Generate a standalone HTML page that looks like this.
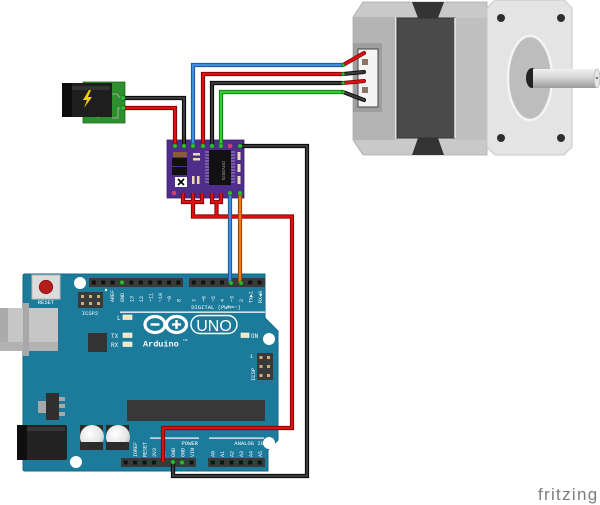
<!DOCTYPE html>
<html><head><meta charset="utf-8"><style>
html,body{margin:0;padding:0;background:#fff;}
svg{display:block;}
.pl{font-family:"Liberation Mono",monospace;font-size:5px;fill:#fff;}
</style></head><body>
<svg width="600" height="505" viewBox="0 0 600 505" xmlns="http://www.w3.org/2000/svg">
<defs>
<linearGradient id="shaft" x1="0" y1="0" x2="0" y2="1">
<stop offset="0" stop-color="#f0f0f0"/><stop offset="0.45" stop-color="#d6d6d6"/><stop offset="1" stop-color="#9a9a9a"/>
</linearGradient>
<radialGradient id="cap" cx="0.4" cy="0.35" r="0.7">
<stop offset="0" stop-color="#ffffff"/><stop offset="0.7" stop-color="#e4e4e4"/><stop offset="1" stop-color="#b8b8b8"/>
</radialGradient>
</defs>

<!-- ============ STEPPER MOTOR ============ -->
<polygon points="353,17 363,2 487,2 487,155 363,155 353,140" fill="#c9c9c9" stroke="#aaa" stroke-width="0.8"/>
<rect x="353" y="17" width="42" height="123" fill="#b4b4b4"/>
<rect x="395" y="18" width="2" height="120" fill="#e6e6e6"/>
<rect x="397" y="18" width="58" height="120" fill="#4a4a4a" stroke="#333" stroke-width="1"/>
<polygon points="412,2 444,2 438,18 418,18" fill="#333"/>
<polygon points="418,138 438,138 444,155 412,155" fill="#333"/>
<rect x="455" y="18" width="32" height="122" fill="#c0c0c0"/>
<line x1="455" y1="18" x2="455" y2="138" stroke="#e8e8e8" stroke-width="1.5"/>
<!-- flange -->
<polygon points="495,0 564,0 572,8 572,147 564,155 495,155 487,147 487,8" fill="#e4e4e4" stroke="#c8c8c8" stroke-width="1"/>
<circle cx="501" cy="18" r="4" fill="#2e2e2e"/><circle cx="561" cy="18" r="4" fill="#2e2e2e"/>
<circle cx="501" cy="138" r="4" fill="#2e2e2e"/><circle cx="561" cy="138" r="4" fill="#2e2e2e"/>
<ellipse cx="530" cy="78" rx="22" ry="42" fill="#bdbdbd" stroke="#f4f4f4" stroke-width="2.5"/>
<ellipse cx="532" cy="78" rx="6" ry="10" fill="#222"/>
<rect x="533" y="69" width="64" height="19" fill="url(#shaft)"/>
<ellipse cx="597" cy="78.5" rx="3" ry="9.5" fill="#e6e6e6" stroke="#aaa" stroke-width="0.6"/>
<circle cx="597" cy="78" r="1.2" fill="#777"/>
<!-- connector -->
<rect x="353" y="43" width="29" height="69" fill="#9e9e9e"/>
<rect x="358" y="49" width="20" height="58" fill="#f4f4f4" stroke="#444" stroke-width="1"/>
<rect x="362" y="59" width="6" height="6" fill="#8c7565"/>
<rect x="362" y="87" width="6" height="6" fill="#8c7565"/>
<!-- motor stubs -->
<g stroke-linecap="round">
<line x1="343" y1="65" x2="364" y2="53" stroke="#7a0000" stroke-width="4"/><line x1="343" y1="65" x2="364" y2="53" stroke="#dd1111" stroke-width="2.5"/>
<line x1="343" y1="74" x2="364" y2="72" stroke="#000" stroke-width="4"/><line x1="343" y1="74" x2="364" y2="72" stroke="#3a3a3a" stroke-width="2.5"/>
<line x1="343" y1="83" x2="364" y2="81" stroke="#7a0000" stroke-width="4"/><line x1="343" y1="83" x2="364" y2="81" stroke="#dd1111" stroke-width="2.5"/>
<line x1="343" y1="92" x2="364" y2="100" stroke="#000" stroke-width="4"/><line x1="343" y1="92" x2="364" y2="100" stroke="#3a3a3a" stroke-width="2.5"/>
</g>

<!-- ============ POWER JACK ============ -->
<rect x="83" y="82" width="42" height="41" fill="#2d8f2d" stroke="#1f6f1f" stroke-width="0.8"/>
<polyline points="112,94 117,94 119,97 123,97" fill="none" stroke="#bbb" stroke-width="0.8"/>
<polyline points="112,118 118,118 118,108 123,108" fill="none" stroke="#bbb" stroke-width="0.8"/>
<polyline points="98,118 98,114 112,114" fill="none" stroke="#bbb" stroke-width="0.8"/>
<rect x="62" y="83" width="50" height="34" fill="#1e1e1e"/>
<rect x="62" y="83" width="10" height="34" fill="#0c0c0c"/>
<rect x="72" y="86" width="38" height="4" fill="#333"/>
<polygon points="89,90 83,100 87,100 84,108 92,97 88,97 91,90" fill="#f5d000"/>

<!-- ============ ARDUINO ============ -->
<path d="M25,274 L265,274 L265,318 L278,331 L278,440 L268,450 L268,471 L25,471 Q23,471 23,469 L23,276 Q23,274 25,274 Z" fill="#1c7a9b" stroke="#146683" stroke-width="1"/>
<!-- USB -->
<rect x="0" y="308" width="58" height="43" fill="#c6c6c6"/>
<rect x="0" y="308" width="8" height="43" fill="#ababab"/>
<rect x="0" y="342" width="58" height="9" fill="#b2b2b2"/>
<rect x="23" y="303" width="6" height="53" fill="#a8a8a8"/>
<!-- reset -->
<rect x="32" y="275" width="28" height="24" fill="#dcdcdc" stroke="#bcbcbc" stroke-width="1"/>
<circle cx="46" cy="287" r="6.7" fill="#b51c1c" stroke="#8a1010" stroke-width="0.8"/>
<text x="46" y="304" class="pl" text-anchor="middle" style="font-size:5.5px">RESET</text>
<!-- mounting holes -->
<circle cx="80" cy="283" r="6" fill="#fff"/>
<circle cx="269" cy="339" r="6" fill="#fff"/>
<circle cx="269" cy="443" r="6" fill="#fff"/>
<circle cx="76" cy="462" r="6" fill="#fff"/>
<!-- ICSP2 -->
<rect x="78" y="292" width="25" height="16" fill="#3a3a3a"/>
<g fill="#c9b27a"><rect x="81" y="295" width="3" height="3"/><rect x="89" y="295" width="3" height="3"/><rect x="97" y="295" width="3" height="3"/><rect x="81" y="302" width="3" height="3"/><rect x="89" y="302" width="3" height="3"/><rect x="97" y="302" width="3" height="3"/></g>
<circle cx="106" cy="290" r="1.2" fill="#fff"/>
<text x="90" y="315" class="pl" text-anchor="middle" style="font-size:5.5px">ICSP2</text>
<!-- top headers -->
<rect x="89" y="278" width="94" height="9" fill="#3a3a3a"/>
<rect x="189" y="278" width="76" height="9" fill="#3a3a3a"/>
<g fill="#111">
<rect x="91.8" y="280.5" width="4" height="4"/><rect x="101.2" y="280.5" width="4" height="4"/><rect x="110.6" y="280.5" width="4" height="4"/><rect x="129.4" y="280.5" width="4" height="4"/><rect x="138.8" y="280.5" width="4" height="4"/><rect x="148.2" y="280.5" width="4" height="4"/><rect x="157.6" y="280.5" width="4" height="4"/><rect x="167" y="280.5" width="4" height="4"/><rect x="176.4" y="280.5" width="4" height="4"/>
<rect x="191.8" y="280.5" width="4" height="4"/><rect x="201.2" y="280.5" width="4" height="4"/><rect x="210.6" y="280.5" width="4" height="4"/><rect x="220" y="280.5" width="4" height="4"/><rect x="248.2" y="280.5" width="4" height="4"/><rect x="257.6" y="280.5" width="4" height="4"/>
</g>
<circle cx="122" cy="282.5" r="2.3" fill="#2dbb2d" stroke="#145a14" stroke-width="0.6"/>
<g class="pl">
<text transform="translate(114,302) rotate(-90)">AREF</text>
<text transform="translate(124,302) rotate(-90)">GND</text>
<text transform="translate(133.5,302) rotate(-90)">13</text>
<text transform="translate(143,302) rotate(-90)">12</text>
<text transform="translate(152.5,302) rotate(-90)">~11</text>
<text transform="translate(162,302) rotate(-90)">~10</text>
<text transform="translate(171,302) rotate(-90)">~9</text>
<text transform="translate(180.5,302) rotate(-90)">8</text>
<text transform="translate(196,302) rotate(-90)">7</text>
<text transform="translate(205.5,302) rotate(-90)">~6</text>
<text transform="translate(215,302) rotate(-90)">~5</text>
<text transform="translate(224,302) rotate(-90)">4</text>
<text transform="translate(233.5,302) rotate(-90)">~3</text>
<text transform="translate(243,302) rotate(-90)">2</text>
<text transform="translate(252.5,303) rotate(-90)">TX▶1</text>
<text transform="translate(262,303) rotate(-90)">RX◀0</text>
</g>
<text x="216" y="309" class="pl" text-anchor="middle" style="font-size:5.5px">DIGITAL (PWM=~)</text>
<rect x="120" y="311.5" width="145" height="1.3" fill="#fff"/>
<!-- LEDs -->
<text x="117" y="320" class="pl" style="font-size:6px">L</text>
<rect x="123" y="315" width="9" height="4.5" fill="#f3e6b8" stroke="#fff" stroke-width="0.6"/>
<text x="111" y="338" class="pl" style="font-size:6px">TX</text>
<rect x="123" y="333" width="9" height="4.5" fill="#f3e6b8" stroke="#fff" stroke-width="0.6"/>
<text x="111" y="347" class="pl" style="font-size:6px">RX</text>
<rect x="123" y="342" width="9" height="4.5" fill="#f3e6b8" stroke="#fff" stroke-width="0.6"/>
<rect x="241" y="333" width="8" height="4.5" fill="#f3e6b8" stroke="#fff" stroke-width="0.6"/>
<text x="251" y="338" class="pl" style="font-size:6px">ON</text>
<!-- chip near USB -->
<rect x="88" y="333" width="19" height="19" fill="#333"/>
<!-- logo -->
<ellipse cx="155" cy="324.5" rx="10" ry="8" fill="none" stroke="#fff" stroke-width="3.2"/>
<ellipse cx="176.5" cy="324.5" rx="10" ry="8" fill="none" stroke="#fff" stroke-width="3.2"/>
<rect x="150.5" y="323.3" width="9" height="2.4" fill="#fff"/>
<rect x="172" y="323.3" width="9" height="2.4" fill="#fff"/>
<rect x="175.3" y="320" width="2.4" height="9" fill="#fff"/>
<rect x="191" y="315.5" width="46" height="18" rx="9" fill="none" stroke="#fff" stroke-width="1.4"/>
<text x="214" y="331" text-anchor="middle" style="font-family:'Liberation Sans',sans-serif;font-size:16px;fill:#fff;font-weight:normal">UNO</text>
<text x="143" y="346.5" style="font-family:'Liberation Mono',monospace;font-size:8.5px;fill:#fff;font-weight:bold">Arduino</text>
<text x="183" y="341" style="font-family:'Liberation Sans',sans-serif;font-size:3px;fill:#fff">TM</text>
<!-- ICSP right -->
<rect x="257" y="353" width="16" height="27" fill="#3a3a3a"/>
<g fill="#c9b27a"><rect x="259.5" y="356" width="3" height="3"/><rect x="267" y="356" width="3" height="3"/><rect x="259.5" y="365" width="3" height="3"/><rect x="267" y="365" width="3" height="3"/><rect x="259.5" y="374" width="3" height="3"/><rect x="267" y="374" width="3" height="3"/></g>
<text transform="translate(255,381) rotate(-90)" class="pl" style="font-size:5.5px">ICSP</text>
<text x="250" y="358" class="pl" style="font-size:5px">1</text>
<!-- main chip -->
<rect x="127" y="400" width="138" height="21" fill="#383838"/>
<!-- regulator -->
<rect x="38" y="401" width="9" height="12" fill="#a8a8a8"/>
<rect x="46" y="393" width="13" height="27" fill="#2f2f2f"/>
<rect x="59" y="397" width="6" height="4" fill="#a8a8a8"/>
<rect x="59" y="404" width="6" height="4" fill="#a8a8a8"/>
<rect x="59" y="412" width="6" height="4" fill="#a8a8a8"/>
<!-- DC jack -->
<rect x="17" y="425" width="50" height="35" rx="2" fill="#222"/>
<rect x="17" y="425" width="10" height="35" fill="#0e0e0e"/>
<rect x="27" y="427" width="38" height="4" fill="#363636"/>
<!-- caps -->
<rect x="80" y="425" width="23" height="25" fill="#2b2b2b"/>
<rect x="106" y="425" width="23" height="25" fill="#2b2b2b"/>
<circle cx="92" cy="437" r="12" fill="url(#cap)"/>
<circle cx="118" cy="437" r="12" fill="url(#cap)"/>
<path d="M81,442 A12,12 0 0 0 103,442 Z" fill="#2b2b2b"/>
<path d="M107,442 A12,12 0 0 0 129,442 Z" fill="#2b2b2b"/>
<!-- power / analog labels -->
<rect x="150" y="437.5" width="49" height="1.2" fill="#fff"/>
<rect x="209" y="437.5" width="55" height="1.2" fill="#fff"/>
<text x="198" y="445" class="pl" text-anchor="end" style="font-size:5.5px">POWER</text>
<text x="264" y="445" class="pl" text-anchor="end" style="font-size:5.5px">ANALOG IN</text>
<g class="pl">
<text transform="translate(137,457) rotate(-90)">IOREF</text>
<text transform="translate(146.5,457) rotate(-90)">RESET</text>
<text transform="translate(156,457) rotate(-90)">3V3</text>
<text transform="translate(165.5,457) rotate(-90)">5V</text>
<text transform="translate(175,457) rotate(-90)">GND</text>
<text transform="translate(184.5,457) rotate(-90)">GND</text>
<text transform="translate(194,457) rotate(-90)">VIN</text>
<text transform="translate(214.5,457) rotate(-90)">A0</text>
<text transform="translate(224,457) rotate(-90)">A1</text>
<text transform="translate(233.5,457) rotate(-90)">A2</text>
<text transform="translate(243,457) rotate(-90)">A3</text>
<text transform="translate(252.5,457) rotate(-90)">A4</text>
<text transform="translate(262,457) rotate(-90)">A5</text>
</g>
<!-- bottom headers -->
<rect x="121" y="458" width="75" height="9" fill="#3a3a3a"/>
<rect x="208" y="458" width="57" height="9" fill="#3a3a3a"/>
<g fill="#111">
<rect x="123.7" y="460.5" width="4" height="4"/><rect x="133.1" y="460.5" width="4" height="4"/><rect x="142.5" y="460.5" width="4" height="4"/><rect x="151.9" y="460.5" width="4" height="4"/><rect x="189.5" y="460.5" width="4" height="4"/>
<rect x="210.7" y="460.5" width="4" height="4"/><rect x="220.1" y="460.5" width="4" height="4"/><rect x="229.5" y="460.5" width="4" height="4"/><rect x="238.9" y="460.5" width="4" height="4"/><rect x="248.3" y="460.5" width="4" height="4"/><rect x="257.7" y="460.5" width="4" height="4"/>
</g>
<circle cx="182" cy="462.5" r="2.3" fill="#2dbb2d" stroke="#145a14" stroke-width="0.6"/>

<!-- ============ DRIVER BOARD ============ -->
<rect x="167" y="140" width="77" height="58" fill="#4f2d8a" stroke="#3a1f6a" stroke-width="0.8"/>
<rect x="173" y="152" width="14" height="5" fill="#8a5a3a"/>
<rect x="172" y="158" width="15" height="8" fill="#111"/>
<rect x="172" y="167" width="15" height="8" fill="#111"/>
<rect x="175" y="177" width="12" height="10" fill="#fff"/>
<path d="M178,179 L184,185 M184,179 L178,185" stroke="#000" stroke-width="1.6"/>
<rect x="193" y="153" width="7" height="2.5" fill="#e9dcb0"/>
<rect x="193" y="158" width="7" height="2.5" fill="#e9dcb0"/>
<rect x="192" y="176" width="2.5" height="8" fill="#e9dcb0"/>
<rect x="197" y="176" width="2.5" height="8" fill="#e9dcb0"/>
<g stroke="#b9a8d8" stroke-width="0.8">
<line x1="205" y1="152" x2="209" y2="152"/><line x1="205" y1="155" x2="209" y2="155"/><line x1="205" y1="158" x2="209" y2="158"/><line x1="205" y1="161" x2="209" y2="161"/><line x1="205" y1="164" x2="209" y2="164"/><line x1="205" y1="167" x2="209" y2="167"/><line x1="205" y1="170" x2="209" y2="170"/><line x1="205" y1="173" x2="209" y2="173"/><line x1="205" y1="176" x2="209" y2="176"/><line x1="205" y1="179" x2="209" y2="179"/><line x1="205" y1="182" x2="209" y2="182"/>
<line x1="231" y1="152" x2="235" y2="152"/><line x1="231" y1="155" x2="235" y2="155"/><line x1="231" y1="158" x2="235" y2="158"/><line x1="231" y1="161" x2="235" y2="161"/><line x1="231" y1="164" x2="235" y2="164"/><line x1="231" y1="167" x2="235" y2="167"/><line x1="231" y1="170" x2="235" y2="170"/><line x1="231" y1="173" x2="235" y2="173"/><line x1="231" y1="176" x2="235" y2="176"/><line x1="231" y1="179" x2="235" y2="179"/><line x1="231" y1="182" x2="235" y2="182"/>
</g>
<rect x="209" y="150" width="22" height="35" fill="#111"/>
<text transform="translate(222,161) rotate(90)" style="font-family:'Liberation Sans',sans-serif;font-size:4.5px;fill:#999">DRV8825</text>
<rect x="237.5" y="152" width="3" height="8" fill="#e9dcb0"/>
<rect x="237.5" y="164" width="3" height="8" fill="#e9dcb0"/>
<rect x="237.5" y="176" width="3" height="8" fill="#e9dcb0"/>
<circle cx="230" cy="146" r="2.3" fill="#d0406a"/>
<circle cx="174" cy="193" r="2.3" fill="#d0406a"/>

<!-- ============ WIRES ============ -->
<g fill="none" stroke-linejoin="miter" stroke-linecap="butt">
<g stroke-width="4.2">
<polyline points="123,98 184,98 184,146" stroke="#000"/>
<polyline points="123,108 175,108 175,146" stroke="#7a0000"/>
<polyline points="343,65 193,65 193,146" stroke="#1a4f90"/>
<polyline points="343,74 203,74 203,146" stroke="#7a0000"/>
<polyline points="343,83 212,83 212,146" stroke="#000"/>
<polyline points="343,92 221,92 221,146" stroke="#137013"/>
<polyline points="240,146 307,146 307,476 173,476 173,462" stroke="#000"/>
<polyline points="183,193 183,202 202,202 202,193" stroke="#7a0000"/>
<polyline points="212,193 212,202 221,202 221,193" stroke="#7a0000"/>
<polyline points="193,193 193,216.5 292,216.5 292,428 163,428 163,462" stroke="#7a0000"/>
<polyline points="216.5,202 216.5,216.5" stroke="#7a0000"/>
<polyline points="230,193 230,283" stroke="#1a4f90"/>
<polyline points="240,193 240,283" stroke="#8a4000"/>
</g>
<g stroke-width="2.4">
<polyline points="123,98 184,98 184,146" stroke="#3a3a3a"/>
<polyline points="123,108 175,108 175,146" stroke="#dd1111"/>
<polyline points="343,65 193,65 193,146" stroke="#3f8ce0"/>
<polyline points="343,74 203,74 203,146" stroke="#dd1111"/>
<polyline points="343,83 212,83 212,146" stroke="#3a3a3a"/>
<polyline points="343,92 221,92 221,146" stroke="#2fd02f"/>
<polyline points="240,146 307,146 307,476 173,476 173,462" stroke="#3a3a3a"/>
<polyline points="183,193 183,202 202,202 202,193" stroke="#dd1111"/>
<polyline points="212,193 212,202 221,202 221,193" stroke="#dd1111"/>
<polyline points="193,193 193,216.5 292,216.5 292,428 163,428 163,462" stroke="#dd1111"/>
<polyline points="216.5,202 216.5,216.5" stroke="#dd1111"/>
<polyline points="230,193 230,283" stroke="#3f8ce0"/>
<polyline points="240,193 240,283" stroke="#f07a1a"/>
</g>
</g>
<!-- wire end dots -->
<g fill="#2dbb2d" stroke="#145a14" stroke-width="0.5">
<circle cx="123" cy="98" r="2.4"/><circle cx="123" cy="108" r="2.4"/>
<circle cx="175" cy="146" r="2.3"/><circle cx="184" cy="146" r="2.3"/><circle cx="193" cy="146" r="2.3"/><circle cx="203" cy="146" r="2.3"/><circle cx="212" cy="146" r="2.3"/><circle cx="221" cy="146" r="2.3"/><circle cx="240" cy="146" r="2.3"/>
<circle cx="230" cy="193" r="2.3"/><circle cx="240" cy="193" r="2.3"/>
<circle cx="231" cy="283" r="2.2"/><circle cx="241" cy="283" r="2.2"/><circle cx="173" cy="462" r="2.2"/>
<circle cx="343" cy="65" r="1.8"/><circle cx="343" cy="74" r="1.8"/><circle cx="343" cy="83" r="1.8"/><circle cx="343" cy="92" r="1.8"/>
</g>

<!-- fritzing logo -->
<text x="538" y="500" style="font-family:'Liberation Sans',sans-serif;font-size:17px;fill:#7d7d7d;letter-spacing:1.3px">fritzing</text>
</svg>
</body></html>
